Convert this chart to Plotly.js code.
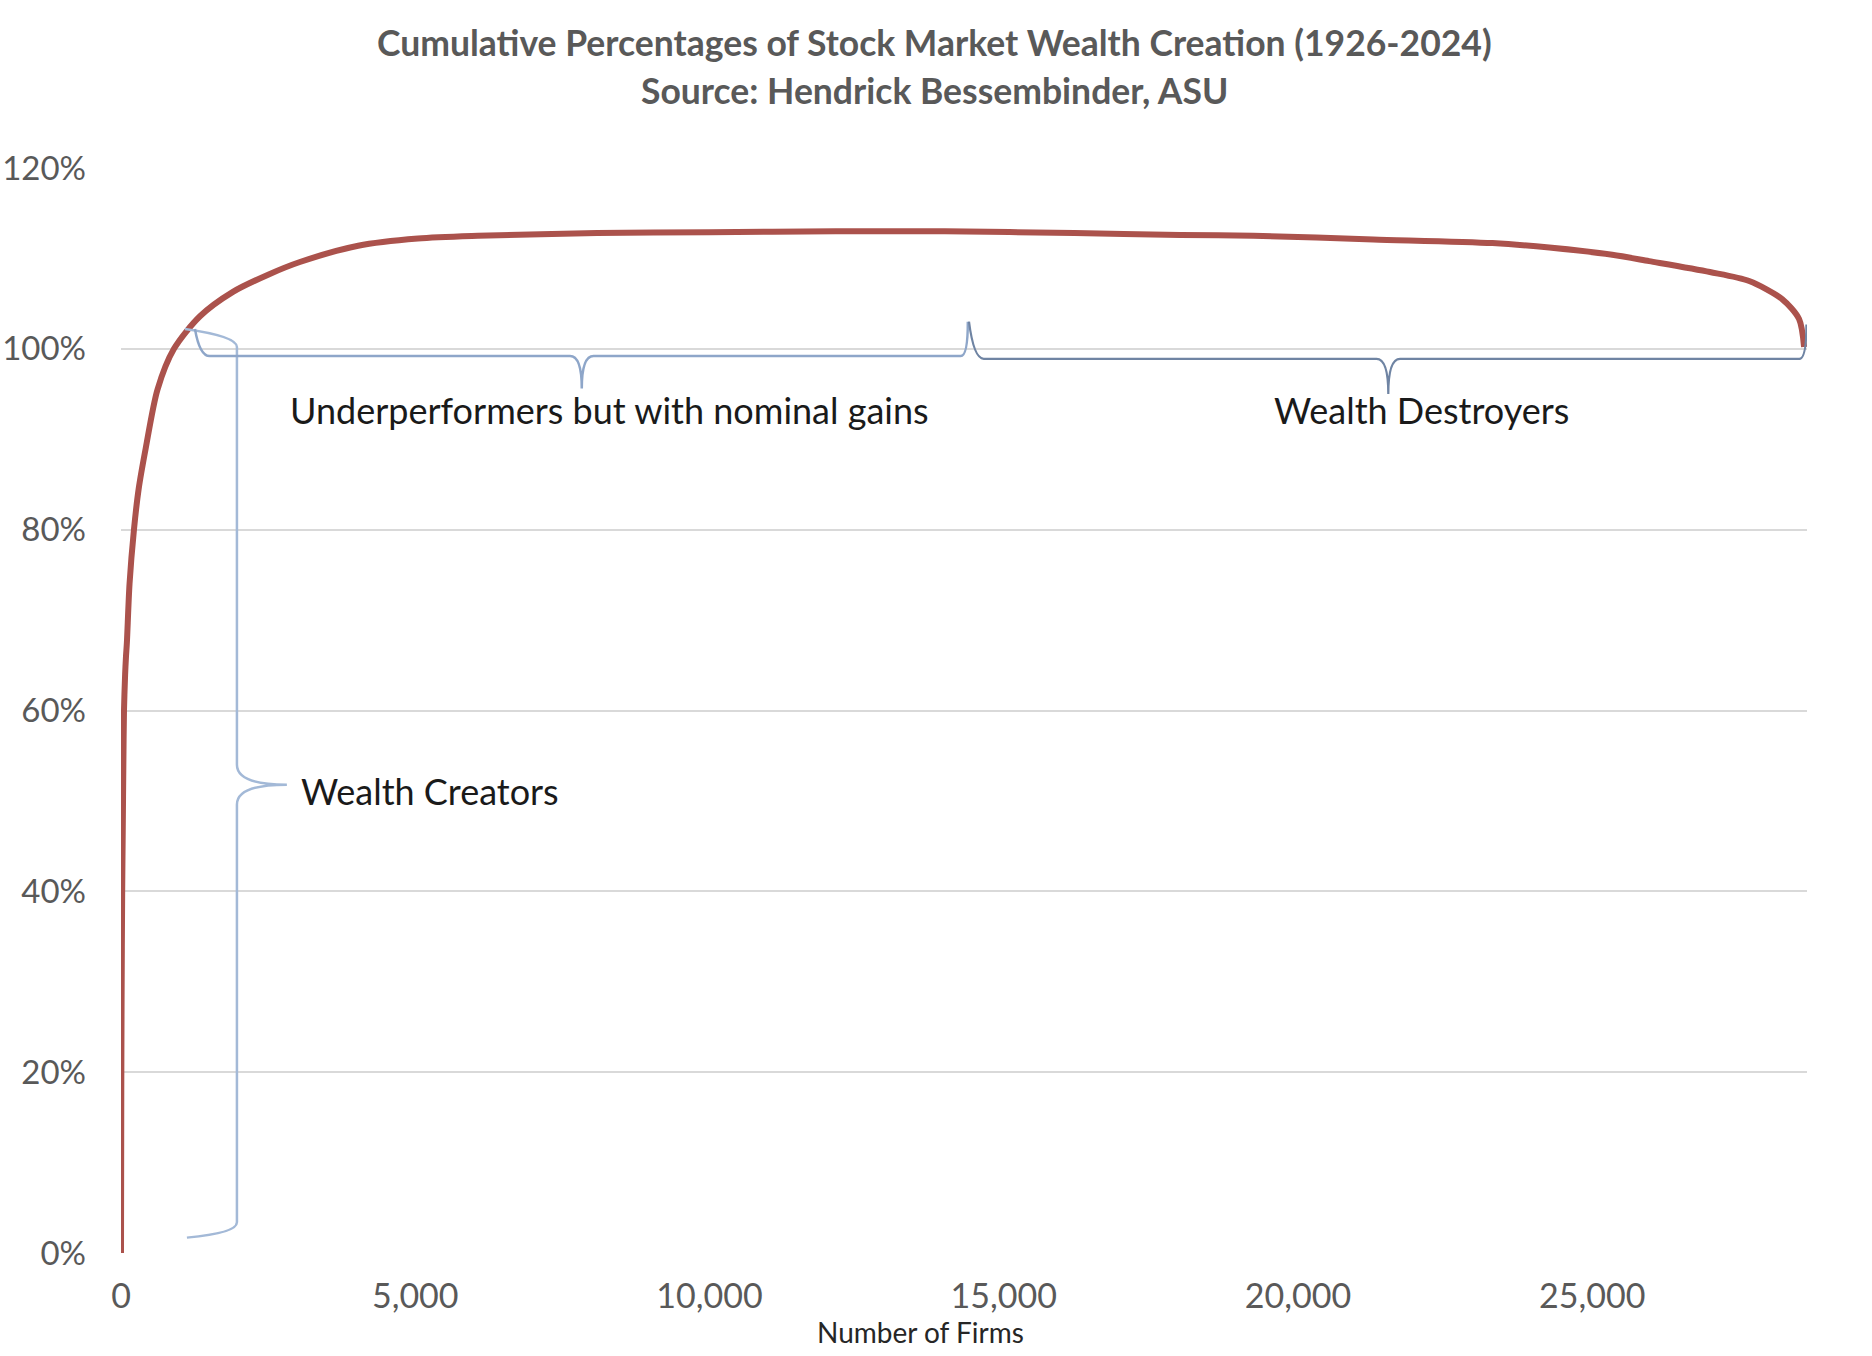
<!DOCTYPE html>
<html>
<head>
<meta charset="utf-8">
<script src="https://cdn.plot.ly/plotly-3.0.1.min.js"></script>
<style>
  html, body { margin: 0; padding: 0; background: #fff; }
  #chart { width: 1872px; height: 1356px; }
</style>
</head>
<body>
<div id="chart"></div>
<script>
// number of firms (ranked by lifetime wealth creation) and cumulative % of total
var firms = [0, 5, 10, 20, 30, 40, 51, 70, 85, 100, 145, 220, 300, 420, 620, 900, 1342, 1902, 2500, 3040,
  4030, 5045, 6063, 8090, 10000, 12145, 14000, 16200, 18000, 19245, 21280, 23305, 24270, 25340,
  25968, 27000, 27667, 28227, 28515, 28600];
var cumPct = [0, 18, 28, 40, 47, 54, 60, 64, 66, 67.5, 74, 80, 84.5, 89, 95.5, 100, 103.6, 106.3, 108.2, 109.6,
  111.4, 112.2, 112.5, 112.8, 112.9, 113.0, 113.0, 112.8, 112.6, 112.5, 112.1, 111.7, 111.2, 110.4,
  109.7, 108.5, 107.5, 105.5, 103.3, 100.2];

var yTicks = [0, 20, 40, 60, 80, 100, 120];
var xTicks = [0, 5000, 10000, 15000, 20000, 25000];

// brace groups: [start firm, end firm, label]
var groupLabels = ["Wealth Creators", "Underperformers but with nominal gains", "Wealth Destroyers"];
var groupStart = [0, 1257, 14410];
var groupEnd = [1257, 14390, 28640];

var titleLines = ["Cumulative Percentages of Stock Market Wealth Creation (1926-2024)",
  "Source: Hendrick Bessembinder, ASU"];

var fontFam = "Lato, 'Open Sans', sans-serif";

// horizontal brace, ends curl up, point down at xt
function hBrace(x0, y0, x1, y1, yl, xt, yt) {
  return "M " + x0 + "," + y0 +
    " Q " + (x0 + 80) + "," + yl + " " + (x0 + 250) + "," + yl +
    " L " + (xt - 200) + "," + yl +
    " Q " + xt + "," + yl + " " + xt + "," + yt +
    " Q " + xt + "," + yl + " " + (xt + 200) + "," + yl +
    " L " + (x1 - 120) + "," + yl +
    " Q " + x1 + "," + yl + " " + x1 + "," + y1;
}

// vertical brace, ends curl left, point right
function vBrace(xl, yTop, yBot, xEndTop, xEndBot, xt, ym) {
  return "M " + xEndTop + "," + (yTop + 0.8) +
    " Q " + xl + "," + yTop + " " + xl + "," + (yTop - 1.2) +
    " L " + xl + "," + (ym + 2.2) +
    " Q " + xl + "," + ym + " " + xt + "," + ym +
    " Q " + xl + "," + ym + " " + xl + "," + (ym - 2.2) +
    " L " + xl + "," + (yBot + 1.2) +
    " Q " + xl + "," + yBot + " " + xEndBot + "," + (yBot - 0.5);
}

var shapes = [
  {type: "path", xref: "x", yref: "y", line: {color: "#a3b9d7", width: 2.5},
    path: vBrace(1970, 101.4, 2.2, 1087, 1120, 2819, 51.8)},
  {type: "path", xref: "x", yref: "y", line: {color: "#8ea6c9", width: 2.5},
    path: hBrace(groupStart[1], 102.2, groupEnd[1], 103, 99.2, 7830, 95.6)},
  {type: "path", xref: "x", yref: "y", line: {color: "#6f84a3", width: 2.2},
    path: hBrace(groupStart[2], 103, groupEnd[2], 102.7, 98.9, 21535, 95.0)}
];

var labelFont = {family: fontFam, size: 36, color: "#1a1a1a"};
var titleFont = {family: fontFam, size: 35.5, color: "#595959", weight: "bold"};
var annotations = [
  {x: 3023, y: 51.1, xref: "x", yref: "y", text: groupLabels[0], showarrow: false,
    xanchor: "left", yanchor: "middle", font: labelFont},
  {x: 8305, y: 93.2, xref: "x", yref: "y", text: groupLabels[1], showarrow: false,
    xanchor: "center", yanchor: "middle", font: labelFont},
  {x: 22096, y: 93.2, xref: "x", yref: "y", text: groupLabels[2], showarrow: false,
    xanchor: "center", yanchor: "middle", font: labelFont},
  {x: 0.474, y: -0.073, xref: "paper", yref: "paper", text: "Number of Firms", showarrow: false,
    xanchor: "center", yanchor: "middle", font: {family: fontFam, size: 28, color: "#262626"}},
  {x: 0.4825, y: 1.116, xref: "paper", yref: "paper", text: titleLines[0], showarrow: false,
    xanchor: "center", yanchor: "middle", font: titleFont},
  {x: 0.4825, y: 1.0715, xref: "paper", yref: "paper", text: titleLines[1], showarrow: false,
    xanchor: "center", yanchor: "middle", font: titleFont}
];

var trace = {
  x: firms,
  y: cumPct,
  type: "scatter",
  mode: "lines",
  line: {color: "#ab524c", width: 6, shape: "spline", smoothing: 0.8},
  hoverinfo: "skip"
};

var layout = {
  width: 1872,
  height: 1356,
  paper_bgcolor: "#fff",
  plot_bgcolor: "#fff",
  showlegend: false,
  margin: {l: 121, r: 65, t: 168, b: 103},
  xaxis: {
    range: [0, 28650],
    tickvals: xTicks,
    tickformat: ",d",
    showgrid: false,
    zeroline: false,
    showline: false,
    ticks: "",
    ticklabelstandoff: 20,
    tickfont: {family: fontFam, size: 34, color: "#595959"}
  },
  yaxis: {
    range: [0, 120],
    tickvals: yTicks,
    ticktext: yTicks.map(function (v) { return v + "%"; }),
    showgrid: true,
    gridcolor: "#d9d9d9",
    gridwidth: 2,
    zeroline: false,
    showline: false,
    ticks: "",
    ticklabelstandoff: 34,
    tickfont: {family: fontFam, size: 33, color: "#595959"}
  },
  shapes: shapes,
  annotations: annotations
};

Plotly.newPlot("chart", [trace], layout, {displayModeBar: false, staticPlot: true});
</script>
</body>
</html>
